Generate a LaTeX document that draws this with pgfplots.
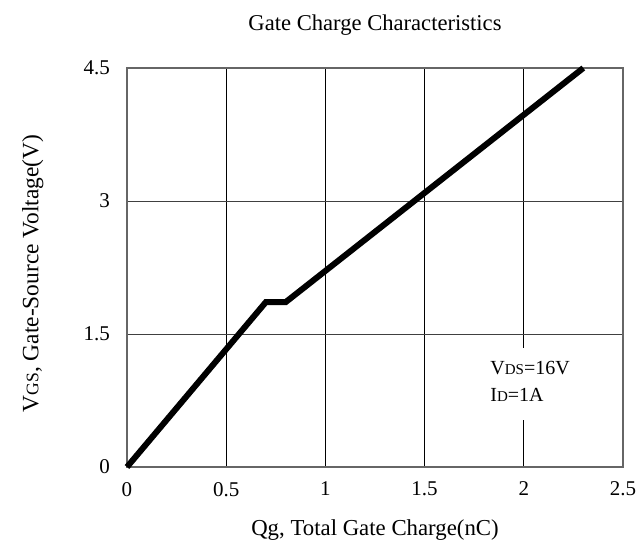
\documentclass[border=0pt]{standalone}
\usepackage{fontspec}
\setmainfont{Liberation Serif}
\usepackage{pgfplots}
\pgfplotsset{compat=1.18}
\begin{document}
\begin{tikzpicture}
\path[use as bounding box] (-63.5pt,-40.5pt) rectangle (258pt,233.5pt);
\begin{axis}[
  at={(0,0)}, anchor=origin,
  scale only axis, width=248pt, height=199.5pt,
  xmin=0, xmax=2.5, ymin=0, ymax=4.5,
  xtick={0,0.5,1,1.5,2,2.5}, ytick={0,1.5,3,4.5},
  xticklabels={0,0.5,1,1.5,2,2.5}, yticklabels={0,1.5,3,4.5},
  major tick length=0pt,
  axis line style={draw=black!60, line width=0.7pt},
  grid=major,
  x grid style={black, line width=0.5pt},
  y grid style={black!75, line width=0.5pt},
  tick label style={font=\fontsize{10.5}{12}\selectfont},
  xticklabel style={yshift=-4pt},
  yticklabel style={xshift=-5pt},
  /pgf/number format/assume math mode=true,
  title={Gate Charge Characteristics},
  title style={at={(axis description cs:0.5,1.108)}, anchor=center, yshift=-6pt, font=\fontsize{11.3}{13}\selectfont},
  xlabel={Qg, Total Gate Charge(nC)},
  xlabel style={at={(axis description cs:0.5,-0.158)}, anchor=center, font=\fontsize{11.4}{14}\selectfont},
  ylabel={V{\fontsize{8.8}{11}\selectfont GS}, Gate-Source Voltage(V)},
  ylabel style={at={(axis description cs:-0.19,0.485)}, anchor=center, font=\fontsize{11.7}{14}\selectfont},
  clip=false,
]
\addplot[black, line width=3pt, line join=miter] coordinates {(0,0) (0.7,1.86) (0.8,1.86) (2.3,4.5)};
\fill[white] (axis cs:1.97,0.53) rectangle (axis cs:2.03,1.342);
\node[anchor=west, inner sep=0pt, font=\fontsize{10}{12}\selectfont] at (axis cs:1.83,1.12)
  {V{\fontsize{7.5}{9}\selectfont DS}=16V};
\node[anchor=west, inner sep=0pt, font=\fontsize{10}{12}\selectfont] at (axis cs:1.83,0.81)
  {I{\fontsize{7.5}{9}\selectfont D}=1A};
\end{axis}
\end{tikzpicture}
\end{document}
